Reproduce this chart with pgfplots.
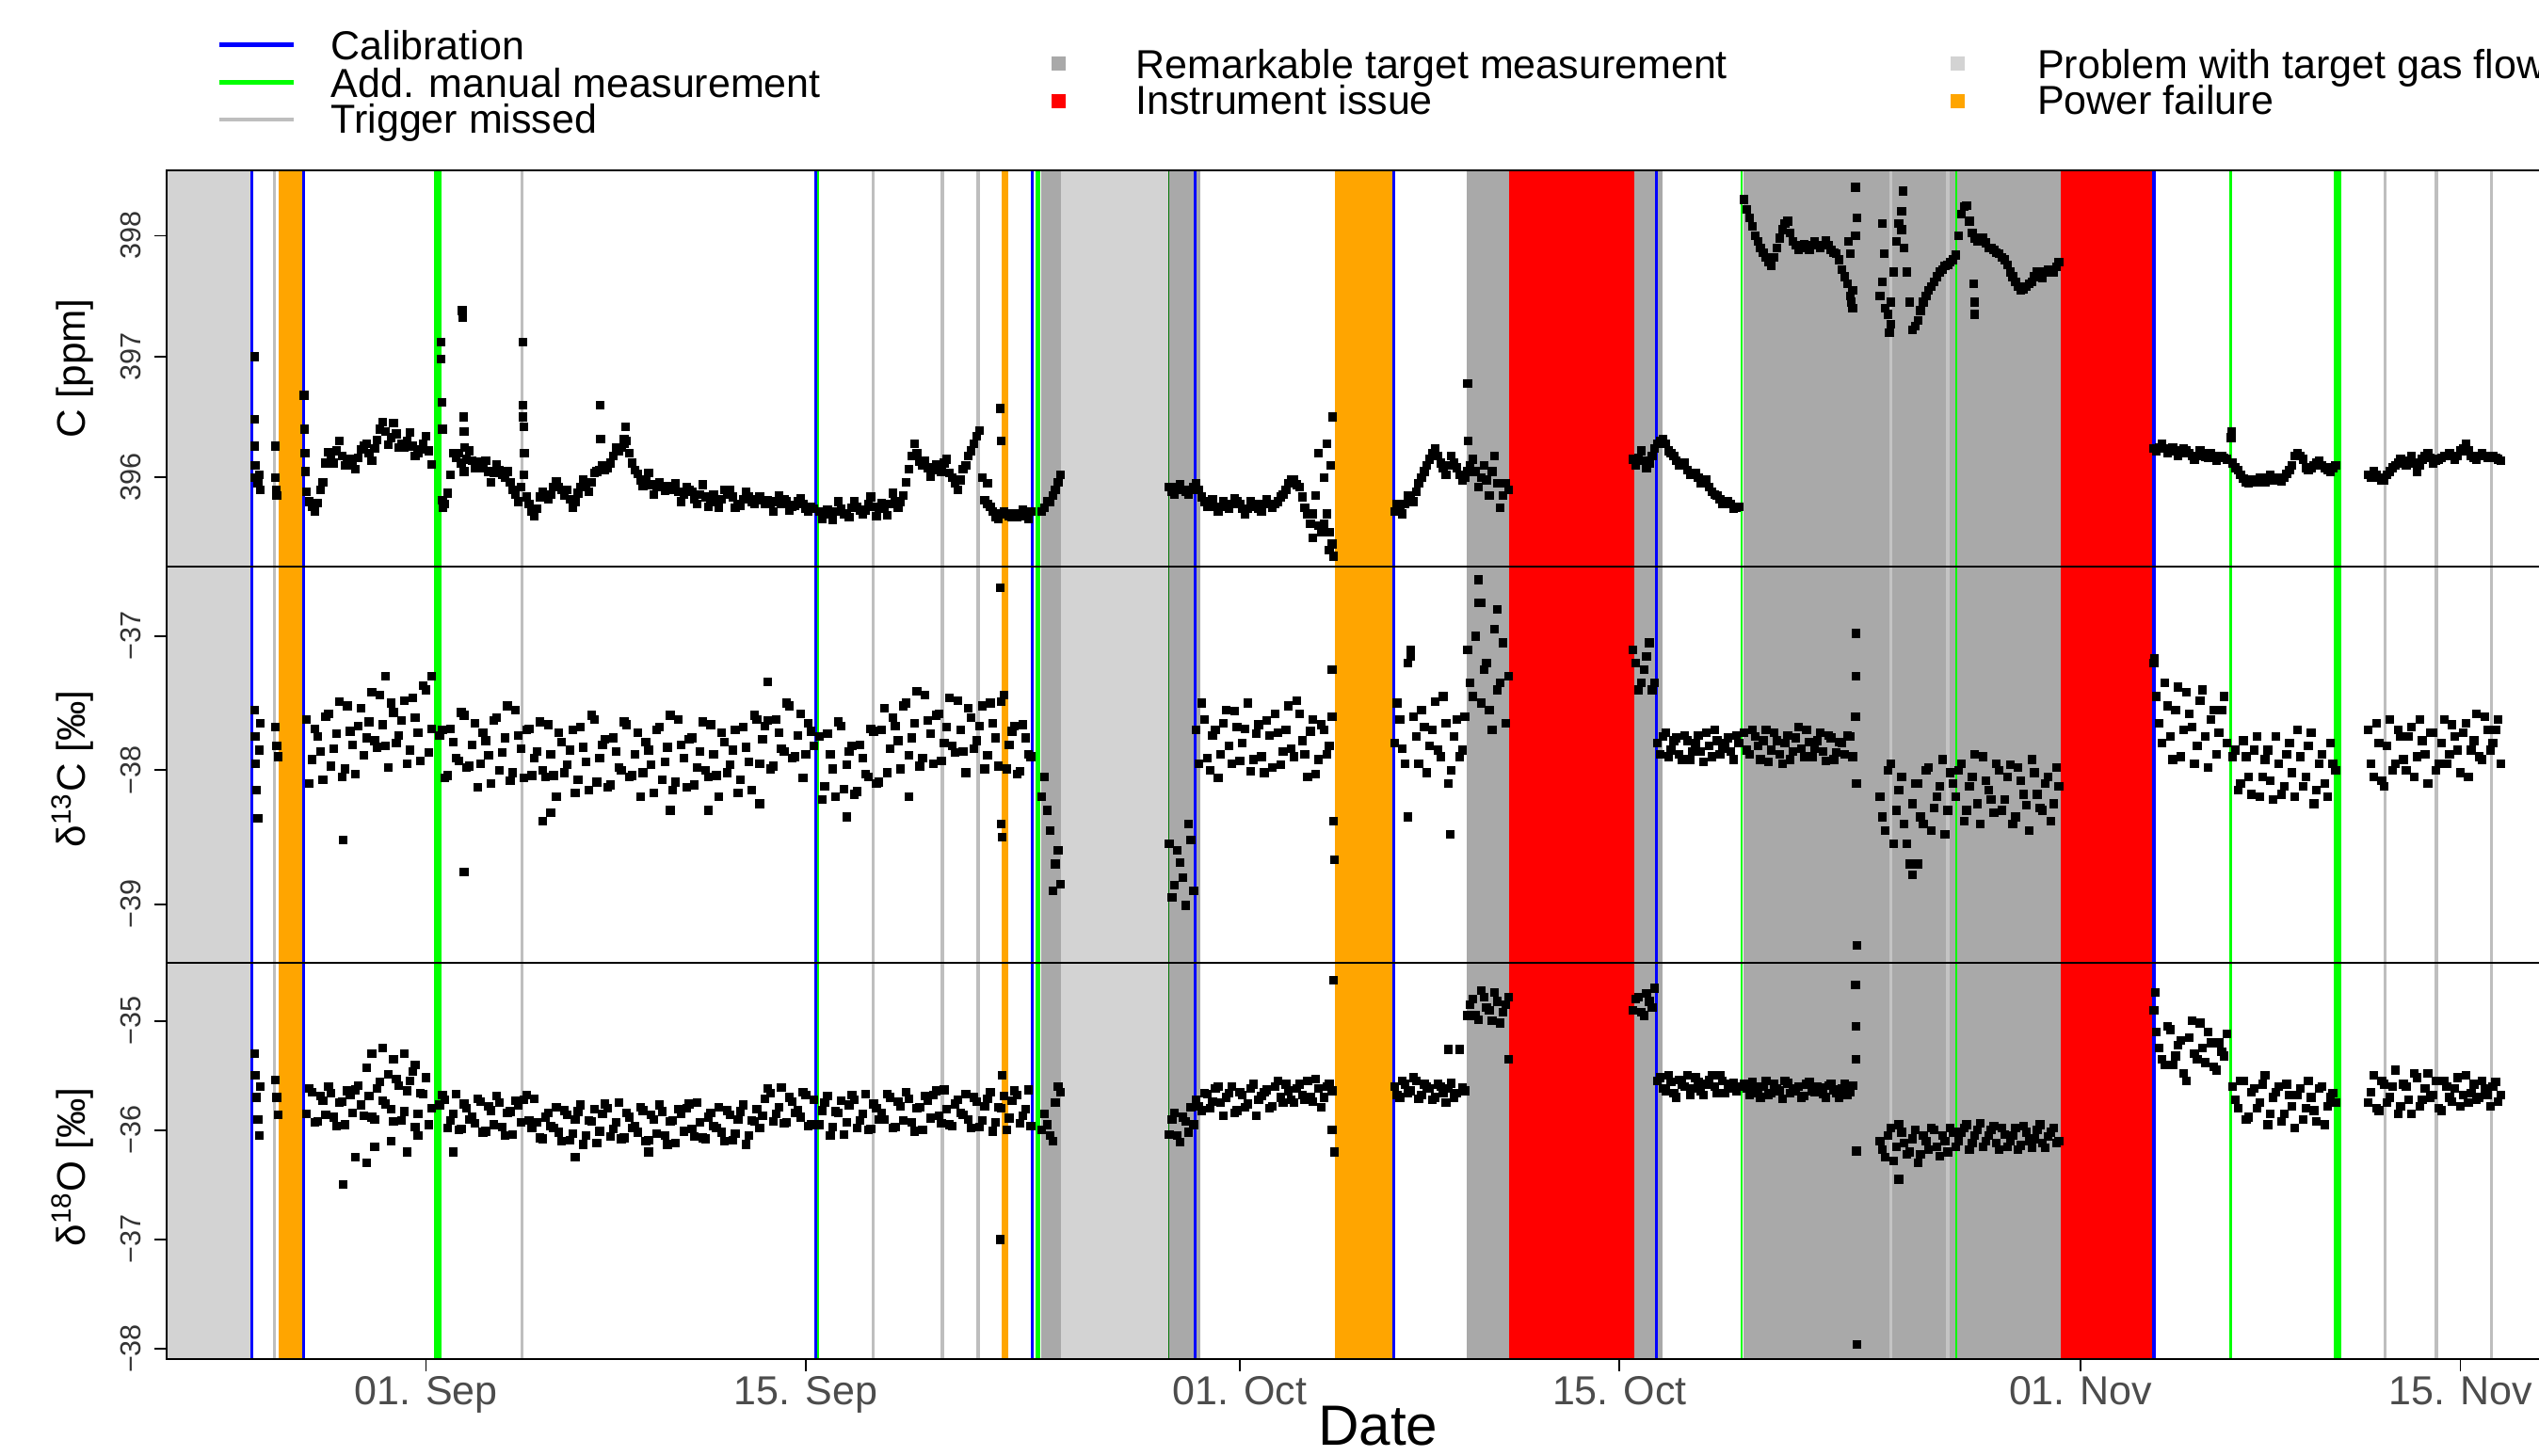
\documentclass[border=0pt]{standalone}
\usepackage{fontspec}
\setmainfont{Liberation Sans}
\usepackage{pgfplots}
\pgfplotsset{compat=1.18}
\usepackage{pgfplotstable}

\definecolor{lgray}{HTML}{D3D3D3}
\definecolor{dgray}{HTML}{A9A9A9}
\definecolor{tgray}{HTML}{BEBEBE}
\definecolor{tgray2}{HTML}{C4C4C4}
\definecolor{pblue}{HTML}{0000FF}
\definecolor{pgreen}{HTML}{00FF00}
\definecolor{pred}{HTML}{FF0000}
\definecolor{porange}{HTML}{FFA500}

% x in days since 01 Sep
\newcommand{\vl}[5]{\draw[#1,line width=#2] (axis cs:#3,#4) -- (axis cs:#3,#5);}
\newcommand{\band}[5]{\fill[#1] (axis cs:#2,#4) rectangle (axis cs:#3,#5);}
\newcommand{\events}[2]{%
  \band{lgray}{-9.56}{-6.42}{#1}{#2}
  \band{lgray}{23.42}{27.36}{#1}{#2}
  \band{dgray}{22.68}{23.42}{#1}{#2}
  \band{dgray}{27.38}{28.56}{#1}{#2}
  \band{dgray}{38.35}{39.94}{#1}{#2}
  \band{dgray}{44.54}{45.57}{#1}{#2}
  \band{dgray}{48.58}{60.25}{#1}{#2}
  \band{pred}{39.94}{44.54}{#1}{#2}
  \band{pred}{60.25}{63.66}{#1}{#2}
  \band{porange}{-5.45}{-4.58}{#1}{#2}
  \band{porange}{21.23}{21.48}{#1}{#2}
  \band{porange}{33.49}{35.64}{#1}{#2}
  \vl{tgray}{1pt}{-5.6}{#1}{#2}
  \vl{tgray}{1pt}{3.54}{#1}{#2}
  \vl{tgray}{1pt}{16.49}{#1}{#2}
  \vl{tgray}{1pt}{19.03}{#1}{#2}
  \vl{tgray}{1pt}{20.35}{#1}{#2}
  \vl{tgray2}{1pt}{54.0}{#1}{#2}
  \vl{tgray2}{1pt}{56.1}{#1}{#2}
  \vl{tgray}{1pt}{72.22}{#1}{#2}
  \vl{tgray}{1pt}{74.12}{#1}{#2}
  \vl{tgray}{1pt}{76.14}{#1}{#2}
  \vl{pblue}{0.9pt}{-6.41}{#1}{#2}
  \vl{pblue}{0.9pt}{-4.52}{#1}{#2}
  \vl{pblue}{0.9pt}{14.36}{#1}{#2}
  \vl{pblue}{0.9pt}{22.34}{#1}{#2}
  \vl{pblue}{0.9pt}{28.35}{#1}{#2}
  \vl{pblue}{0.9pt}{35.68}{#1}{#2}
  \vl{pblue}{0.9pt}{45.37}{#1}{#2}
  \vl{pblue}{1.1pt}{63.70}{#1}{#2}
  \vl{pgreen}{2.3pt}{0.42}{#1}{#2}
  \vl{pgreen}{0.6pt}{14.46}{#1}{#2}
  \vl{pgreen}{1.3pt}{22.55}{#1}{#2}
  \vl{green!45!black}{0.5pt}{27.38}{#1}{#2}
  \vl{pgreen}{0.8pt}{48.50}{#1}{#2}
  \vl{pgreen}{0.5pt}{56.41}{#1}{#2}
  \vl{pgreen}{1.1pt}{66.53}{#1}{#2}
  \vl{pgreen}{2.2pt}{70.47}{#1}{#2}
}

\pgfplotsset{
  panel/.style={
    scale only axis, width=748.5pt, height=122.3pt,
    xmin=-9.56, xmax=79.81,
    axis on top,
    axis line style={line width=0.6pt},
    tick align=outside,
    ytick pos=left,
    major tick length=3.8pt,
    every tick/.style={black, line width=0.5pt},
    yticklabel style={font=\fontsize{8.9}{10}\selectfont, color=black!80, rotate=90, anchor=south, inner sep=0pt},
    yticklabel shift=4pt,
    xtick=\empty,
    clip=true,
  },
  dots/.style={only marks, mark=square*, mark size=1.15pt, mark options={draw=none, fill=black}},
}

\pgfplotstableread{
x c a o
-4.4 395.88 -37.62 -35.85
-4.2 395.76 -37.92 -35.65
-4.0 395.79 -37.75 -35.92
-3.8 395.96 -38.07 -35.73
-3.6 396.21 -37.58 -35.60
-3.4 396.12 -37.84 -35.88
-3.2 396.30 -37.49 -35.75
-3.0 396.10 -37.99 -35.95
-2.8 396.15 -37.71 -35.68
-2.6 396.07 -38.03 -35.63
-2.4 396.23 -37.54 -35.77
-2.2 396.28 -37.76 -35.43
-2.0 396.14 -37.42 -35.88
-1.8 396.31 -37.83 -35.62
-1.6 396.46 -37.66 -35.73
-1.4 396.27 -37.98 -35.49
-1.2 396.45 -37.57 -35.92
-1.0 396.25 -37.74 -35.59
-0.8 396.25 -37.48 -35.83
-0.6 396.37 -37.85 -35.55
-0.4 396.18 -37.61 -35.97
-0.2 396.23 -37.93 -35.66
0.0 396.34 -37.40 -35.52
0.2 396.11 -37.69 -35.80
0.6 395.81 -37.70 -35.68
0.8 395.87 -38.04 -35.98
1.0 396.20 -37.79 -35.85
1.2 396.20 -37.93 -36.00
1.4 396.05 -37.59 -35.76
1.6 396.22 -37.97 -35.90
1.8 396.08 -37.65 -35.94
2.0 396.13 -37.95 -35.74
2.2 396.14 -37.78 -36.01
2.4 395.96 -38.10 -35.82
2.6 396.11 -37.61 -35.69
2.8 396.02 -37.87 -35.97
3.0 396.05 -37.52 -35.84
3.2 395.90 -38.02 -36.04
3.4 395.80 -37.74 -35.77
3.6 396.02 -38.06 -35.72
3.8 395.78 -37.69 -35.91
4.0 395.68 -37.91 -35.71
4.2 395.84 -37.64 -36.07
4.4 395.86 -38.05 -35.88
4.6 395.86 -37.88 -35.96
4.8 395.97 -38.20 -35.79
5.0 395.90 -37.79 -36.10
5.2 395.90 -37.96 -35.86
5.4 395.75 -37.70 -36.03
5.6 395.87 -38.07 -35.83
5.8 395.98 -37.83 -36.13
6.0 395.88 -38.15 -35.91
6.2 396.04 -37.62 -35.81
6.4 396.06 -37.91 -36.01
6.6 396.06 -37.77 -35.76
6.8 396.12 -38.11 -36.06
7.0 396.25 -37.86 -35.93
7.2 396.25 -38.00 -36.08
7.4 396.30 -37.66 -35.84
7.6 396.12 -38.04 -35.98
7.8 396.03 -37.72 -36.02
8.0 395.93 -38.02 -35.82
8.2 396.04 -37.85 -36.09
8.4 395.86 -38.17 -35.90
8.6 395.96 -37.68 -35.77
8.8 395.89 -37.94 -36.05
9.0 395.93 -37.59 -35.92
9.2 395.95 -38.09 -36.12
9.4 395.80 -37.81 -35.85
9.6 395.92 -38.13 -35.80
9.8 395.88 -37.76 -35.99
10.0 395.78 -37.98 -35.75
10.2 395.94 -37.64 -36.07
10.4 395.76 -38.05 -35.88
10.6 395.86 -37.88 -35.96
10.8 395.75 -38.20 -35.79
11.0 395.90 -37.79 -36.10
11.2 395.90 -37.96 -35.86
11.4 395.75 -37.70 -36.03
11.6 395.77 -38.07 -35.83
11.8 395.88 -37.83 -36.13
12.0 395.80 -38.15 -35.91
12.2 395.82 -37.62 -35.81
12.4 395.81 -37.77 -35.87
12.6 395.81 -37.63 -35.62
12.8 395.72 -37.97 -35.92
13.0 395.85 -37.72 -35.79
13.2 395.82 -37.86 -35.94
13.4 395.73 -37.52 -35.70
13.6 395.77 -37.90 -35.84
13.8 395.83 -37.58 -35.88
14.0 395.74 -37.88 -35.68
14.2 395.76 -37.71 -35.95
14.6 395.66 -38.22 -35.82
14.8 395.73 -37.73 -35.69
15.0 395.65 -37.99 -35.97
15.2 395.80 -37.64 -35.84
15.4 395.70 -38.14 -36.04
15.6 395.67 -37.86 -35.77
15.8 395.80 -38.18 -35.72
16.0 395.73 -37.81 -35.91
16.2 395.73 -38.03 -35.67
16.4 395.84 -37.69 -35.99
16.6 395.68 -38.10 -35.80
16.8 395.79 -37.70 -35.84
17.0 395.69 -38.02 -35.67
17.2 395.87 -37.61 -35.98
17.4 395.75 -37.78 -35.74
17.6 395.85 -37.52 -35.91
17.8 396.07 -37.89 -35.71
18.0 396.28 -37.65 -36.01
18.2 396.13 -37.97 -35.79
18.4 396.14 -37.44 -35.69
18.6 396.01 -37.73 -35.89
18.8 396.11 -37.59 -35.64
19.0 396.05 -37.93 -35.94
19.2 396.15 -37.68 -35.81
19.4 396.00 -37.82 -35.96
19.6 395.90 -37.48 -35.72
19.8 396.07 -37.86 -35.86
20.0 396.18 -37.54 -35.90
20.2 396.28 -37.84 -35.70
20.4 396.39 -37.67 -35.97
20.6 395.81 -37.99 -35.78
20.8 395.76 -37.50 -35.65
21.0 395.67 -37.76 -35.93
21.2 395.70 -37.49 -35.80
21.4 395.70 -37.99 -36.00
21.6 395.67 -37.71 -35.73
21.8 395.67 -38.03 -35.68
22.0 395.73 -37.66 -35.87
22.2 395.66 -37.88 -35.63
22.8 395.75 -38.05 -35.85
23.0 395.80 -38.45 -36.05
23.2 395.90 -38.70 -35.75
23.4 396.02 -38.85 -35.65
27.4 395.92 -38.55 -36.04
27.6 395.86 -38.86 -35.84
27.8 395.94 -38.69 -36.11
28.0 395.88 -39.01 -35.92
28.2 395.90 -38.52 -35.79
28.4 395.95 -37.70 -35.72
28.6 395.84 -37.50 -35.82
28.8 395.76 -37.91 -35.67
29.0 395.82 -37.74 -35.74
29.2 395.72 -38.06 -35.60
29.4 395.80 -37.65 -35.87
29.6 395.74 -37.82 -35.66
29.8 395.83 -37.56 -35.84
30.0 395.78 -37.93 -35.65
30.2 395.70 -37.69 -35.79
30.4 395.80 -38.01 -35.62
30.6 395.78 -37.73 -35.87
30.8 395.72 -37.90 -35.69
31.0 395.82 -37.63 -35.63
31.2 395.75 -37.98 -35.78
31.4 395.80 -37.72 -35.55
31.6 395.86 -37.86 -35.75
31.8 395.95 -37.52 -35.64
32.0 395.98 -37.90 -35.75
32.2 395.92 -37.58 -35.58
32.4 395.75 -37.88 -35.72
32.6 395.62 -37.71 -35.70
32.8 395.85 -38.03 -35.53
33.0 395.55 -37.66 -35.79
33.2 395.70 -37.88 -35.60
33.4 395.45 -37.60 -35.64
35.8 395.78 -37.50 -35.68
36.0 395.70 -37.84 -35.55
36.2 395.85 -37.20 -35.66
36.4 395.80 -37.60 -35.52
36.6 395.95 -37.95 -35.71
36.8 396.05 -37.68 -35.58
37.0 396.15 -37.82 -35.62
37.2 396.24 -37.49 -35.70
37.4 396.12 -37.90 -35.60
37.6 396.02 -37.65 -35.75
37.8 396.18 -38.00 -35.57
38.0 396.08 -37.62 -35.66
38.2 395.98 -37.85 -35.61
38.4 396.05 -37.10 -34.95
38.6 396.15 -37.45 -34.80
38.8 395.92 -36.75 -34.99
39.0 396.10 -37.25 -34.78
39.2 395.85 -37.55 -34.90
39.4 396.18 -36.95 -34.74
39.6 395.75 -37.35 -35.02
39.8 395.95 -37.65 -34.85
44.6 396.10 -37.20 -34.80
44.8 396.22 -37.35 -34.92
45.0 396.08 -37.15 -34.75
45.2 396.18 -37.40 -34.88
45.4 396.28 -37.80 -35.55
45.6 396.32 -37.75 -35.62
45.8 396.22 -37.90 -35.50
46.0 396.18 -37.78 -35.66
46.2 396.10 -37.88 -35.54
46.4 396.12 -37.74 -35.60
46.6 396.02 -37.92 -35.68
46.8 396.04 -37.80 -35.52
47.0 395.95 -37.86 -35.64
47.2 395.98 -37.72 -35.58
47.4 395.88 -37.90 -35.50
47.6 395.85 -37.78 -35.66
47.8 395.78 -37.84 -35.55
48.0 395.80 -37.76 -35.62
48.2 395.74 -37.92 -35.57
48.4 395.76 -37.80 -35.60
48.6 398.30 -37.72 -35.58
48.8 398.15 -37.88 -35.68
49.0 398.00 -37.75 -35.60
49.2 397.90 -37.92 -35.70
49.4 397.82 -37.70 -35.55
49.6 397.75 -37.85 -35.66
49.8 397.90 -37.78 -35.62
50.0 398.05 -37.95 -35.71
50.2 398.12 -37.74 -35.57
50.4 397.95 -37.86 -35.64
50.6 397.88 -37.68 -35.60
50.8 397.93 -37.90 -35.69
51.0 397.88 -37.79 -35.56
51.2 397.95 -37.84 -35.65
51.4 397.90 -37.72 -35.61
51.6 397.96 -37.93 -35.70
51.8 397.88 -37.76 -35.58
52.0 397.85 -37.87 -35.66
52.2 397.72 -37.80 -35.62
52.4 397.60 -37.74 -35.68
52.6 397.40 -37.90 -35.59
53.6 397.50 -38.20 -36.10
53.8 397.40 -38.45 -36.25
54.0 397.45 -37.95 -35.98
54.2 397.95 -38.30 -36.15
54.4 398.20 -38.05 -36.02
54.6 397.70 -38.55 -36.22
54.8 397.22 -38.25 -36.08
55.0 397.30 -38.10 -36.30
55.2 397.45 -38.40 -36.05
55.4 397.55 -37.98 -36.18
55.6 397.62 -38.28 -36.00
55.8 397.70 -38.12 -36.24
56.0 397.75 -38.48 -36.10
56.2 397.78 -38.02 -35.98
56.4 397.84 -38.20 -36.15
56.6 398.18 -37.95 -36.02
56.8 398.25 -38.30 -35.95
57.0 398.02 -38.05 -36.12
57.2 397.95 -38.25 -36.00
57.4 397.98 -37.90 -36.15
57.6 397.90 -38.15 -36.05
57.8 397.88 -38.32 -35.96
58.0 397.85 -38.00 -36.18
58.2 397.80 -38.22 -36.04
58.4 397.70 -37.96 -36.10
58.6 397.62 -38.35 -35.98
58.8 397.55 -38.08 -36.14
59.0 397.58 -38.26 -36.02
59.2 397.62 -37.92 -36.16
59.4 397.70 -38.18 -36.00
59.6 397.65 -38.30 -36.12
59.8 397.72 -38.05 -36.06
60.0 397.70 -38.25 -35.98
60.2 397.78 -38.12 -36.10
63.8 396.22 -37.45 -35.10
64.0 396.28 -37.80 -35.35
64.2 396.20 -37.52 -35.05
64.4 396.25 -37.92 -35.40
64.6 396.18 -37.38 -35.22
64.8 396.24 -37.70 -35.48
65.0 396.20 -37.58 -35.15
65.2 396.15 -37.95 -35.30
65.4 396.22 -37.48 -35.02
65.6 396.17 -37.75 -35.38
65.8 396.20 -37.62 -35.20
66.0 396.14 -37.88 -35.45
66.2 396.18 -37.55 -35.28
66.4 396.15 -37.80 -35.12
66.6 396.12 -37.90 -35.60
66.8 396.06 -38.15 -35.80
67.0 395.99 -37.78 -35.55
67.2 395.95 -38.05 -35.88
67.4 395.97 -37.85 -35.62
67.6 396.00 -38.20 -35.75
67.8 395.96 -37.92 -35.50
68.0 396.02 -38.08 -35.85
68.2 396.00 -37.75 -35.65
68.4 395.97 -38.18 -35.92
68.6 396.03 -37.88 -35.58
68.8 396.10 -38.02 -35.78
69.0 396.20 -37.70 -35.68
69.2 396.15 -38.12 -35.90
69.4 396.06 -37.82 -35.55
69.6 396.10 -38.25 -35.82
69.8 396.14 -37.95 -35.62
70.0 396.08 -38.10 -35.95
70.2 396.05 -37.80 -35.70
70.4 396.10 -38.00 -35.75
71.6 396.02 -37.70 -35.75
71.8 396.05 -38.05 -35.50
72.0 396.00 -37.80 -35.82
72.2 395.98 -38.12 -35.58
72.4 396.05 -37.62 -35.70
72.6 396.10 -37.95 -35.45
72.8 396.15 -37.75 -35.78
73.0 396.10 -38.00 -35.60
73.2 396.18 -37.68 -35.85
73.4 396.05 -37.90 -35.52
73.6 396.15 -37.78 -35.72
73.8 396.20 -38.10 -35.48
74.0 396.12 -37.72 -35.68
74.2 396.15 -37.95 -35.80
74.4 396.18 -37.62 -35.55
74.6 396.20 -37.88 -35.70
74.8 396.15 -37.75 -35.62
75.0 396.22 -38.02 -35.78
75.2 396.28 -37.65 -35.50
75.4 396.18 -37.85 -35.66
75.6 396.15 -37.58 -35.72
75.8 396.20 -37.92 -35.55
76.0 396.16 -37.70 -35.68
76.2 396.18 -37.80 -35.60
76.4 396.15 -37.62 -35.74
}\tA

\pgfplotstableread{
x a o
-4.3 -38.10 -35.62
-4.1 -37.69 -35.93
-3.9 -37.86 -35.69
-3.7 -37.60 -35.86
-3.5 -37.97 -35.66
-3.3 -37.73 -35.96
-3.1 -38.05 -35.74
-2.9 -37.52 -35.64
-2.7 -37.81 -35.84
-2.5 -37.67 -35.59
-2.3 -37.89 -35.87
-2.1 -37.64 -35.69
-1.9 -37.78 -35.90
-1.7 -37.44 -35.56
-1.5 -37.82 -35.76
-1.3 -37.50 -35.81
-1.1 -37.80 -35.53
-0.9 -37.63 -35.91
-0.7 -37.95 -35.64
-0.5 -37.46 -35.46
-0.3 -37.72 -35.85
-0.1 -37.37 -35.67
0.1 -37.87 -35.95
0.5 -37.74 -35.77
0.7 -38.06 -35.72
0.9 -37.69 -35.91
1.1 -37.91 -35.67
1.3 -37.57 -35.99
1.5 -37.98 -35.80
1.7 -37.81 -35.88
1.9 -38.13 -35.71
2.1 -37.72 -36.02
2.3 -37.89 -35.78
2.5 -37.63 -35.95
2.7 -38.00 -35.75
2.9 -37.76 -36.05
3.1 -38.08 -35.83
3.3 -37.55 -35.73
3.5 -37.84 -35.93
3.7 -37.70 -35.68
3.9 -38.04 -35.98
4.1 -37.86 -35.93
4.3 -38.00 -36.08
4.5 -37.66 -35.84
4.7 -38.04 -35.98
4.9 -37.72 -36.02
5.1 -38.02 -35.82
5.3 -37.85 -36.09
5.5 -38.17 -35.90
5.7 -37.68 -35.77
5.9 -37.94 -36.05
6.1 -37.59 -35.92
6.3 -38.09 -36.12
6.5 -37.81 -35.85
6.7 -38.13 -35.80
6.9 -37.76 -35.99
7.1 -37.98 -35.75
7.3 -37.64 -36.07
7.5 -38.05 -35.88
7.7 -37.88 -35.96
7.9 -38.20 -35.79
8.1 -37.79 -36.10
8.3 -37.96 -35.86
8.5 -37.70 -36.03
8.7 -38.07 -35.83
8.9 -37.83 -36.13
9.1 -38.15 -35.91
9.3 -37.62 -35.81
9.5 -37.91 -36.01
9.7 -37.77 -35.76
9.9 -38.11 -36.06
10.1 -37.86 -35.93
10.3 -38.00 -36.08
10.5 -37.66 -35.84
10.7 -38.04 -35.98
10.9 -37.72 -36.02
11.1 -38.02 -35.82
11.3 -37.85 -36.09
11.5 -38.17 -35.90
11.7 -37.68 -35.77
11.9 -37.94 -36.05
12.1 -37.59 -35.92
12.3 -37.95 -35.98
12.5 -37.67 -35.71
12.7 -37.99 -35.66
12.9 -37.62 -35.85
13.1 -37.84 -35.61
13.3 -37.50 -35.93
13.5 -37.91 -35.74
13.7 -37.74 -35.82
13.9 -38.06 -35.65
14.1 -37.65 -35.96
14.3 -37.82 -35.72
14.5 -37.75 -35.95
14.7 -38.12 -35.75
14.9 -37.88 -36.05
15.1 -38.20 -35.83
15.3 -37.67 -35.73
15.5 -37.96 -35.93
15.7 -37.82 -35.68
15.9 -38.16 -35.98
16.1 -37.91 -35.85
16.3 -38.05 -36.00
16.5 -37.71 -35.76
16.7 -38.09 -35.90
16.9 -37.54 -35.90
17.1 -37.84 -35.70
17.3 -37.67 -35.97
17.5 -37.99 -35.78
17.7 -37.50 -35.65
17.9 -37.76 -35.93
18.1 -37.41 -35.80
18.3 -37.91 -36.00
18.5 -37.63 -35.73
18.7 -37.95 -35.68
18.9 -37.58 -35.87
19.1 -37.80 -35.63
19.3 -37.46 -35.95
19.5 -37.87 -35.76
19.7 -37.70 -35.84
19.9 -38.02 -35.67
20.1 -37.61 -35.98
20.3 -37.78 -35.74
20.5 -37.52 -35.91
20.7 -37.89 -35.71
20.9 -37.65 -36.01
21.1 -37.97 -35.79
21.3 -37.44 -35.69
21.5 -37.81 -35.89
21.7 -37.67 -35.64
21.9 -38.01 -35.94
22.1 -37.76 -35.81
22.3 -37.90 -35.96
22.7 -38.20 -36.00
22.9 -38.30 -35.95
23.1 -38.90 -36.10
23.3 -38.60 -35.60
27.5 -38.95 -35.90
27.7 -38.60 -36.05
27.9 -38.80 -35.88
28.1 -38.40 -36.02
28.3 -38.90 -35.95
28.5 -37.95 -35.78
28.7 -37.62 -35.66
28.9 -38.00 -35.80
29.1 -37.70 -35.62
29.3 -37.88 -35.75
29.5 -37.55 -35.70
29.7 -37.95 -35.60
29.9 -37.68 -35.82
30.1 -37.80 -35.68
30.3 -37.50 -35.76
30.5 -37.92 -35.58
30.7 -37.66 -35.72
30.9 -38.02 -35.65
31.1 -37.74 -35.80
31.3 -37.58 -35.60
31.5 -37.96 -35.70
31.7 -37.70 -35.58
31.9 -37.84 -35.72
32.1 -37.48 -35.62
32.3 -37.78 -35.68
32.5 -38.05 -35.55
32.7 -37.62 -35.74
32.9 -37.92 -35.62
33.1 -37.70 -35.70
33.3 -37.82 -35.58
35.7 -37.80 -35.60
35.9 -37.62 -35.70
36.1 -37.95 -35.58
36.3 -37.10 -35.64
36.5 -37.75 -35.55
36.7 -37.55 -35.68
36.9 -38.02 -35.60
37.1 -37.70 -35.72
37.3 -37.85 -35.58
37.5 -37.45 -35.66
37.7 -38.10 -35.62
37.9 -37.75 -35.70
38.1 -37.90 -35.26
38.3 -37.60 -35.64
38.5 -37.35 -34.85
38.7 -37.00 -34.95
38.9 -37.50 -34.72
39.1 -37.20 -34.88
39.3 -37.70 -35.00
39.5 -37.40 -34.82
39.7 -37.05 -34.92
39.9 -37.30 -34.78
44.5 -37.10 -34.90
44.7 -37.40 -34.78
44.9 -37.25 -34.95
45.1 -37.05 -34.82
45.3 -37.35 -34.70
45.5 -37.88 -35.52
45.7 -37.72 -35.64
45.9 -37.85 -35.56
46.1 -37.76 -35.70
46.3 -37.92 -35.58
46.5 -37.78 -35.50
46.7 -37.86 -35.62
46.9 -37.74 -35.56
47.1 -37.94 -35.68
47.3 -37.82 -35.54
47.5 -37.70 -35.60
47.7 -37.88 -35.50
47.9 -37.80 -35.66
48.1 -37.86 -35.58
48.3 -37.74 -35.64
48.7 -37.85 -35.62
48.9 -37.70 -35.56
49.1 -37.82 -35.66
49.3 -37.78 -35.60
49.5 -37.94 -35.68
49.7 -37.72 -35.58
49.9 -37.88 -35.64
50.1 -37.80 -35.55
50.3 -37.92 -35.66
50.5 -37.76 -35.62
50.7 -37.84 -35.70
50.9 -37.70 -35.58
51.1 -37.90 -35.64
51.3 -37.78 -35.60
51.5 -37.86 -35.67
51.7 -37.74 -35.59
51.9 -37.92 -35.63
52.1 -37.79 -35.70
52.3 -37.88 -35.58
52.5 -37.75 -35.65
53.7 -38.35 -36.18
53.9 -38.00 -36.05
54.1 -38.55 -36.28
54.3 -38.15 -35.95
54.5 -38.40 -36.12
54.7 -38.70 -36.20
54.9 -38.10 -36.00
55.1 -38.35 -36.22
55.3 -38.00 -36.10
55.5 -38.45 -35.98
55.7 -38.20 -36.15
55.9 -37.92 -36.05
56.1 -38.30 -36.20
56.3 -38.10 -36.02
56.5 -38.00 -36.10
56.7 -38.38 -35.98
56.9 -38.12 -36.18
57.1 -37.88 -36.05
57.3 -38.40 -35.94
57.5 -38.08 -36.10
57.7 -38.22 -36.00
57.9 -37.95 -36.12
58.1 -38.30 -35.98
58.3 -38.05 -36.15
58.5 -38.40 -36.05
58.7 -37.98 -36.18
58.9 -38.18 -35.96
59.1 -38.45 -36.10
59.3 -38.02 -36.08
59.5 -38.28 -35.95
59.7 -38.10 -36.16
59.9 -38.38 -36.02
60.1 -37.98 -36.12
63.7 -37.20 -34.90
63.9 -37.65 -35.25
64.1 -37.35 -35.40
64.3 -37.75 -35.08
64.5 -37.55 -35.32
64.7 -37.90 -35.18
64.9 -37.42 -35.55
65.1 -37.68 -35.00
65.3 -37.82 -35.35
65.5 -37.40 -35.25
65.7 -37.98 -35.10
65.9 -37.55 -35.42
66.1 -37.72 -35.20
66.3 -37.45 -35.32
66.7 -37.85 -35.72
66.9 -38.10 -35.55
67.1 -37.90 -35.90
67.3 -38.18 -35.65
67.5 -37.75 -35.80
67.7 -38.05 -35.58
67.9 -37.85 -35.95
68.1 -38.22 -35.70
68.3 -37.95 -35.60
68.5 -38.12 -35.85
68.7 -37.80 -35.68
68.9 -38.20 -35.98
69.1 -37.90 -35.62
69.3 -38.05 -35.80
69.5 -37.72 -35.70
69.7 -38.15 -35.92
69.9 -37.88 -35.60
70.1 -38.20 -35.78
70.3 -37.95 -35.66
71.7 -37.95 -35.65
71.9 -37.65 -35.80
72.1 -38.08 -35.55
72.3 -37.82 -35.75
72.5 -38.00 -35.60
72.7 -37.70 -35.85
72.9 -37.92 -35.58
73.1 -37.75 -35.72
73.3 -38.05 -35.48
73.5 -37.62 -35.78
73.7 -37.88 -35.62
73.9 -37.72 -35.70
74.1 -38.00 -35.55
74.3 -37.80 -35.82
74.5 -37.95 -35.60
74.7 -37.66 -35.74
74.9 -37.85 -35.52
75.1 -37.72 -35.68
75.3 -38.05 -35.75
75.5 -37.78 -35.58
75.7 -37.90 -35.70
75.9 -37.60 -35.62
76.1 -37.85 -35.78
76.3 -37.70 -35.56
76.5 -37.95 -35.68
}\tB

\pgfplotstableread{
x c
-4.3 395.80
-4.1 395.72
-3.9 395.90
-3.7 396.12
-3.5 396.18
-3.3 396.22
-3.1 396.18
-2.9 396.14
-2.7 396.10
-2.5 396.16
-2.3 396.26
-2.1 396.20
-1.9 396.24
-1.7 396.40
-1.5 396.38
-1.3 396.33
-1.1 396.36
-0.9 396.28
-0.7 396.30
-0.5 396.26
-0.3 396.20
-0.1 396.28
0.1 396.22
0.7 395.78
0.9 396.02
1.1 396.16
1.3 396.12
1.5 396.15
1.7 396.14
1.9 396.10
2.1 396.08
2.3 396.05
2.5 396.04
2.7 396.06
2.9 396.00
3.1 395.96
3.3 395.86
3.5 395.92
3.7 395.84
3.9 395.72
4.1 395.74
4.3 395.88
4.5 395.82
4.7 395.92
4.9 395.92
5.1 395.85
5.3 395.82
5.5 395.80
5.7 395.92
5.9 395.94
6.1 395.96
6.3 396.05
6.5 396.10
6.7 396.08
6.9 396.18
7.1 396.22
7.3 396.32
7.5 396.20
7.7 396.06
7.9 395.98
8.1 395.98
8.3 395.94
8.5 395.92
8.7 395.93
8.9 395.90
9.1 395.90
9.3 395.88
9.5 395.86
9.7 395.90
9.9 395.82
10.1 395.86
10.3 395.84
10.5 395.82
10.7 395.80
10.9 395.82
11.1 395.86
11.3 395.84
11.5 395.78
11.7 395.82
11.9 395.84
12.1 395.78
12.3 395.84
12.5 395.78
12.7 395.78
12.9 395.80
13.1 395.78
13.3 395.80
13.5 395.76
13.7 395.80
13.9 395.78
14.1 395.72
14.3 395.74
14.5 395.72
14.7 395.70
14.9 395.70
15.1 395.72
15.3 395.74
15.5 395.70
15.7 395.75
15.9 395.76
16.1 395.70
16.3 395.78
16.5 395.76
16.7 395.74
16.9 395.74
17.1 395.78
17.3 395.80
17.5 395.80
17.7 395.96
17.9 396.18
18.1 396.20
18.3 396.10
18.5 396.08
18.7 396.06
18.9 396.08
19.1 396.12
19.3 396.04
19.5 395.95
19.7 395.98
19.9 396.10
20.1 396.22
20.3 396.34
20.5 396.00
20.7 395.78
20.9 395.72
21.1 395.66
21.3 395.72
21.5 395.68
21.7 395.70
21.9 395.68
22.1 395.70
22.3 395.72
22.7 395.72
22.9 395.80
23.1 395.85
23.3 395.96
27.5 395.88
27.7 395.92
27.9 395.90
28.1 395.86
28.3 395.92
28.5 395.90
28.7 395.80
28.9 395.80
29.1 395.76
29.3 395.76
29.5 395.78
29.7 395.78
29.9 395.80
30.1 395.74
30.3 395.74
30.5 395.76
30.7 395.74
30.9 395.78
31.1 395.78
31.3 395.78
31.5 395.84
31.7 395.90
31.9 395.98
32.1 395.94
32.3 395.84
32.5 395.70
32.7 395.70
32.9 395.60
33.1 395.62
33.3 395.55
35.7 395.72
35.9 395.76
36.1 395.78
36.3 395.82
36.5 395.88
36.7 396.00
36.9 396.10
37.1 396.20
37.3 396.18
37.5 396.08
37.7 396.10
37.9 396.12
38.1 396.02
38.3 396.00
38.5 396.10
38.7 396.05
38.9 396.00
39.1 395.98
39.3 396.05
39.5 395.95
39.7 395.85
39.9 395.90
44.5 396.15
44.7 396.16
44.9 396.14
45.1 396.12
45.3 396.24
45.5 396.30
45.7 396.28
45.9 396.20
46.1 396.14
46.3 396.12
46.5 396.06
46.7 396.03
46.9 396.00
47.1 395.96
47.3 395.92
47.5 395.86
47.7 395.82
47.9 395.78
48.1 395.78
48.3 395.75
48.7 398.22
48.9 398.08
49.1 397.95
49.3 397.86
49.5 397.78
49.7 397.82
49.9 397.98
50.1 398.10
50.3 398.02
50.5 397.92
50.7 397.90
50.9 397.90
51.1 397.92
51.3 397.92
51.5 397.92
51.7 397.92
51.9 397.86
52.1 397.80
52.3 397.66
52.5 397.50
53.7 397.62
53.9 397.35
54.1 397.70
54.3 398.10
54.5 397.90
54.7 397.45
54.9 397.25
55.1 397.38
55.3 397.50
55.5 397.58
55.7 397.66
55.9 397.72
56.1 397.76
56.3 397.80
56.5 398.00
56.7 398.24
56.9 398.12
57.1 397.98
57.3 397.96
57.5 397.94
57.7 397.90
57.9 397.86
58.1 397.82
58.3 397.76
58.5 397.66
58.7 397.58
58.9 397.56
59.1 397.60
59.3 397.66
59.5 397.68
59.7 397.70
59.9 397.72
60.1 397.74
63.7 396.24
63.9 396.25
64.1 396.24
64.3 396.22
64.5 396.22
64.7 396.20
64.9 396.22
65.1 396.18
65.3 396.18
65.5 396.20
65.7 396.16
65.9 396.18
66.1 396.16
66.3 396.16
66.7 396.08
66.9 396.02
67.1 395.96
67.3 395.98
67.5 395.96
67.7 395.98
67.9 396.00
68.1 395.98
68.3 395.98
68.5 396.00
68.7 396.06
68.9 396.18
69.1 396.18
69.3 396.08
69.5 396.08
69.7 396.12
69.9 396.10
70.1 396.06
70.3 396.08
71.7 396.00
71.9 396.02
72.1 395.98
72.3 396.02
72.5 396.08
72.7 396.12
72.9 396.12
73.1 396.14
73.3 396.12
73.5 396.10
73.7 396.18
73.9 396.16
74.1 396.14
74.3 396.16
74.5 396.18
74.7 396.18
74.9 396.18
75.1 396.24
75.3 396.22
75.5 396.16
75.7 396.18
75.9 396.18
76.1 396.16
76.3 396.16
76.5 396.14
}\tC

\begin{document}
\begin{tikzpicture}
% ---------- panel 1: C [ppm]
\begin{axis}[panel, at={(51.5pt,274.45pt)}, anchor=south west,
  ymin=395.262, ymax=398.537, ytick={396,397,398}, yticklabels={396,397,398}]
\events{395.262}{398.537}
\addplot[dots] table[x=x,y=c] {\tA};
\addplot[dots] table[x=x,y=c] {\tC};
\addplot[dots] coordinates {
(-6.33,397.0) (-6.33,396.48) (-6.33,396.26) (-6.3,396.1) (-6.3,396.0) (-6.2,395.95) (-6.15,396.02) (-6.1,395.9)
(-5.56,396.26) (-5.55,396.0) (-5.52,395.9) (-5.5,395.85)
(-4.5,396.68) (-4.48,396.4) (-4.46,396.2) (-4.45,396.05)
(0.55,397.12) (0.56,396.98) (0.58,396.62) (0.6,396.4) (0.62,395.75)
(1.33,397.38) (1.35,397.32) (1.38,396.5) (1.4,396.38) (1.42,396.25)
(3.56,397.12) (3.58,396.6) (3.58,396.5) (3.6,396.42) (3.62,396.2)
(6.41,396.6) (6.43,396.32) (7.35,396.42) (7.3,396.28)
(21.18,396.57) (21.2,396.3) (20.7,395.95)
(33.43,396.5) (32.9,396.2) (33.1,396.0) (33.3,395.4) (33.35,396.1) (33.45,395.35) (32.7,395.5) (33.2,396.28)
(38.4,396.78) (38.42,396.3)
(52.7,398.4) (52.75,398.15) (52.7,398.0) (52.5,397.85) (52.55,397.45) (52.45,397.95) (52.6,397.55)
(54.45,398.37) (54.4,398.05) (53.7,398.1) (53.75,397.85) (54.0,397.27) (53.95,397.2)
(57.05,397.6) (57.1,397.45) (57.1,397.35)
(66.55,396.33) (66.57,396.38)
};
\end{axis}
% ---------- panel 2: d13C
\begin{axis}[panel, at={(51.5pt,152.15pt)}, anchor=south west,
  ymin=-39.437, ymax=-36.482, ytick={-39,-38,-37}, yticklabels={−39,−38,−37}]
\events{-39.437}{-36.482}
\addplot[dots] table[x=x,y=a] {\tA};
\addplot[dots] table[x=x,y=a] {\tB};
\addplot[dots] coordinates {
(-6.33,-37.55) (-6.3,-37.75) (-6.28,-37.95) (-6.25,-38.15) (-6.2,-38.36) (-6.1,-37.65) (-6.15,-37.85)
(-5.55,-37.68) (-5.5,-37.82) (-5.46,-37.9)
(-3.07,-38.52) (1.4,-38.76)
(4.3,-38.38) (4.6,-38.32) (9.0,-38.3) (10.4,-38.3) (12.3,-38.25) (15.5,-38.35) (17.8,-38.2)
(0.2,-37.3) (12.6,-37.34) (-1.5,-37.3)
(21.18,-36.64) (21.2,-38.4) (21.25,-38.5)
(33.5,-38.67) (33.45,-38.38) (33.4,-37.25)
(36.3,-37.15) (36.2,-38.35) (37.75,-38.48)
(38.81,-36.58) (38.9,-36.75) (39.5,-36.8)
(52.72,-36.98) (52.72,-37.3) (52.7,-37.6) (52.74,-38.1) (52.76,-39.31)
(54.8,-38.78) (55.0,-38.7)
(63.72,-37.17)
};
\end{axis}
% ---------- panel 3: d18O
\begin{axis}[panel, at={(51.5pt,29.85pt)}, anchor=south west,
  ymin=-38.092, ymax=-34.467, ytick={-38,-37,-36,-35}, yticklabels={−38,−37,−36,−35},
  xtick={0,14,30,44,61,75},
  xticklabels={01. Sep,15. Sep,01. Oct,15. Oct,01. Nov,15. Nov},
  xtick pos=bottom,
  xticklabel style={font=\fontsize{12.5}{14}\selectfont, color=black!70, inner sep=1.5pt}]
\events{-38.092}{-34.467}
\addplot[dots] table[x=x,y=o] {\tA};
\addplot[dots] table[x=x,y=o] {\tB};
\addplot[dots] coordinates {
(-6.33,-35.3) (-6.3,-35.5) (-6.25,-35.7) (-6.2,-35.9) (-6.15,-36.05) (-6.1,-35.6)
(-5.55,-35.54) (-5.5,-35.7) (-5.46,-35.86)
(-3.07,-36.5) (-2.6,-36.25) (-2.2,-36.3)
(-2.0,-35.3) (-1.6,-35.25) (-1.2,-35.35) (-0.8,-35.3) (-0.4,-35.4) (-1.9,-36.15) (-1.3,-36.1) (-0.7,-36.2) (-0.3,-36.05)
(1.0,-36.2) (5.5,-36.25) (8.2,-36.2)
(21.18,-37.0) (21.25,-35.5)
(33.45,-34.63) (33.5,-36.2) (33.4,-36.0)
(37.7,-35.26) (39.9,-35.35)
(52.7,-34.67) (52.72,-35.05) (52.73,-35.35) (52.74,-36.19) (52.76,-37.96)
(54.3,-36.45) (63.75,-34.74)
};
\end{axis}

% ---------- axis titles
\node[rotate=90, anchor=base, font=\fontsize{12.3}{14}\selectfont] at (26.25pt,335.75pt) {C [ppm]};
\node[rotate=90, anchor=base, font=\fontsize{12.3}{14}\selectfont] at (26.25pt,212pt) {δ\textsuperscript{13}C [‰]};
\node[rotate=90, anchor=base, font=\fontsize{12.3}{14}\selectfont] at (26.25pt,89pt) {δ\textsuperscript{18}O [‰]};
\node[anchor=base, inner sep=0pt, font=\fontsize{17.5}{19}\selectfont] at (425.5pt,3pt) {Date};

% ---------- legend
\begin{scope}[font=\fontsize{12.5}{14}\selectfont]
\draw[pblue, line width=1.25pt] (67.65pt,435.65pt) -- (90.8pt,435.65pt);
\draw[pgreen, line width=1.25pt] (67.65pt,424.1pt) -- (90.8pt,424.1pt);
\draw[tgray, line width=1.25pt] (67.65pt,412.6pt) -- (90.8pt,412.6pt);
\node[anchor=base west, inner sep=0pt] at (102pt,431.1pt) {Calibration};
\node[anchor=base west, inner sep=0pt] at (102pt,419.5pt) {Add. manual measurement};
\node[anchor=base west, inner sep=0pt] at (102pt,408.3pt) {Trigger missed};
\fill[dgray] (324.75pt,427.7pt) rectangle (329.05pt,432pt);
\fill[pred] (324.75pt,416.1pt) rectangle (329.05pt,420.4pt);
\begin{scope}
\clip (340pt,400pt) rectangle (534.5pt,449.5pt);
\node[anchor=base west, inner sep=0pt] at (350.5pt,425.3pt) {Remarkable target measurement};
\end{scope}
\node[anchor=base west, inner sep=0pt] at (350.5pt,414.15pt) {Instrument issue};
\fill[lgray] (602.35pt,427.7pt) rectangle (606.65pt,432pt);
\fill[porange] (602.35pt,416.1pt) rectangle (606.65pt,420.4pt);
\node[anchor=base west, inner sep=0pt] at (628.9pt,425.3pt) {Problem with target gas flow};
\node[anchor=base west, inner sep=0pt] at (628.9pt,414.15pt) {Power failure};
\end{scope}

\pgfresetboundingbox
\useasboundingbox (0pt,0pt) rectangle (784pt,449.5pt);
\end{tikzpicture}
\end{document}
